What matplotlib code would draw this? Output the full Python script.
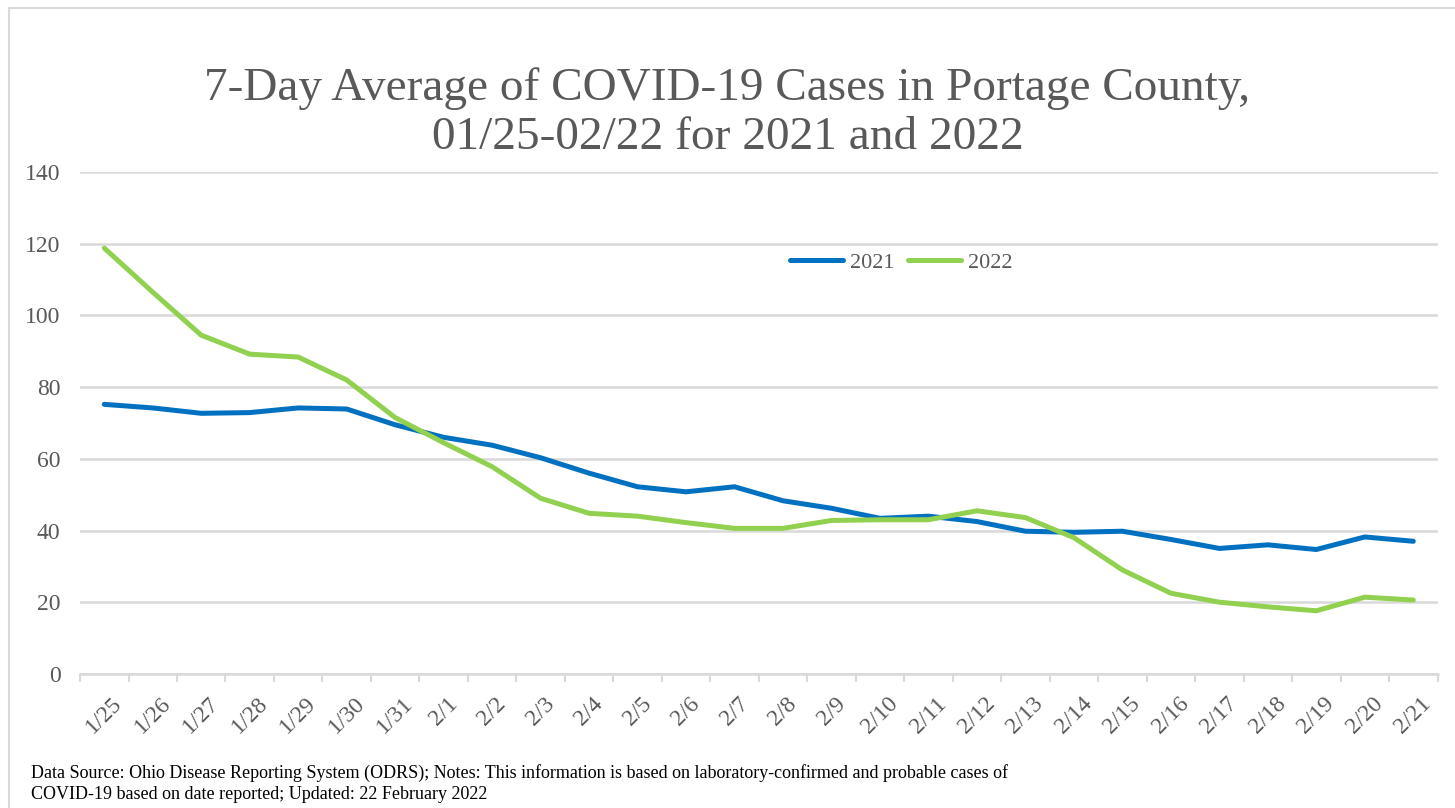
import matplotlib.pyplot as plt
import numpy as np
from matplotlib.patches import Rectangle

plt.rcParams.update({
    "font.family": "serif",
    "font.serif": ["Liberation Serif", "DejaVu Serif"],
})

dates = ['1/25', '1/26', '1/27', '1/28', '1/29', '1/30', '1/31', '2/1', '2/2', '2/3',
         '2/4', '2/5', '2/6', '2/7', '2/8', '2/9', '2/10', '2/11', '2/12', '2/13',
         '2/14', '2/15', '2/16', '2/17', '2/18', '2/19', '2/20', '2/21']
cases_2021 = [75.2, 74.2, 72.7, 72.9, 74.2, 73.9, 69.5, 66.0, 63.8, 60.3,
              56.0, 52.2, 50.8, 52.2, 48.3, 46.2, 43.4, 44.0, 42.5, 39.8,
              39.5, 39.8, 37.5, 35.0, 36.0, 34.7, 38.2, 37.0]
cases_2022 = [118.8, 106.5, 94.5, 89.2, 88.4, 82.0, 71.5, 64.5, 57.8, 49.0,
              44.8, 44.0, 42.2, 40.6, 40.6, 42.8, 43.0, 43.0, 45.5, 43.6,
              38.0, 29.0, 22.5, 20.0, 18.7, 17.6, 21.4, 20.6]
y_ticks = [0, 20, 40, 60, 80, 100, 120, 140]

text_gray = '#595959'
grid_gray = '#D9D9D9'

fig = plt.figure(figsize=(14.55, 8.08), dpi=100)
ax = fig.add_axes([0.055, 0.166, 0.933, 0.621])

x = np.arange(len(dates))
ax.plot(x, cases_2021, color='#0070C0', linewidth=3.6, label='2021', solid_capstyle='round')
ax.plot(x, cases_2022, color='#92D050', linewidth=3.6, label='2022', solid_capstyle='round')

ax.set_xlim(-0.5, len(dates) - 0.5)
ax.set_ylim(0, 140)
ax.set_yticks(y_ticks)
ax.set_yticklabels([str(v) for v in y_ticks], fontsize=17, color=text_gray)
ax.tick_params(axis='y', length=0, pad=14)
ax.grid(axis='y', color=grid_gray, linewidth=1.8)
ax.set_axisbelow(True)

# category labels at centres, tick marks at boundaries
ax.set_xticks(x)
ax.set_xticklabels(dates, fontsize=17, color=text_gray, rotation=45,
                   ha='center', va='top')
ax.tick_params(axis='x', which='major', length=0, pad=14)
ax.set_xticks(np.arange(-0.5, len(dates)), minor=True)
ax.tick_params(axis='x', which='minor', length=6, width=1.5, color=grid_gray)

for side in ['top', 'right', 'left']:
    ax.spines[side].set_visible(False)
ax.spines['bottom'].set_color(grid_gray)
ax.spines['bottom'].set_linewidth(1.8)

leg = ax.legend(loc='center', bbox_to_anchor=(0.605, 0.819), ncol=2, frameon=False,
                fontsize=16, handlelength=2.4, handletextpad=0.3, columnspacing=0.6)
for t in leg.get_texts():
    t.set_color(text_gray)

fig.text(0.5, 0.86, '7-Day Average of COVID-19 Cases in Portage County,\n01/25-02/22 for 2021 and 2022',
         ha='center', va='center', fontsize=34, color=text_gray, linespacing=1.2)

fig.text(0.021, 0.006, 'Data Source: Ohio Disease Reporting System (ODRS); Notes: This information is based on '
         'laboratory-confirmed and probable cases of\nCOVID-19 based on date reported; Updated: 22 February 2022',
         ha='left', va='bottom', fontsize=13, color='black', linespacing=1.3)

fig.patches.append(Rectangle((0.006, -0.01), 1.1, 1.0, transform=fig.transFigure,
                             fill=False, edgecolor='#D9D9D9', linewidth=1.5))

fig.savefig('out.png', dpi=100)
